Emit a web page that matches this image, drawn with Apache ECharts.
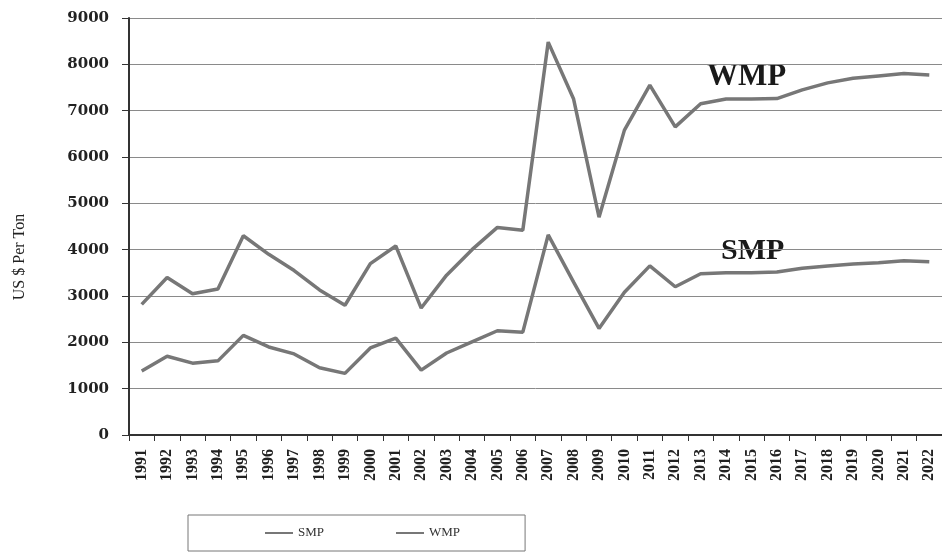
<!DOCTYPE html>
<html>
<head>
<meta charset="utf-8">
<script src="https://cdn.jsdelivr.net/npm/echarts@6/dist/echarts.min.js"></script>
<style>
  html, body { margin: 0; padding: 0; background: #fff; }
  #chart { width: 942px; height: 553px; }
</style>
</head>
<body>
<div id="chart"></div>
<script>
const years = ['1991', '1992', '1993', '1994', '1995', '1996', '1997', '1998', '1999', '2000',
  '2001', '2002', '2003', '2004', '2005', '2006', '2007', '2008', '2009', '2010',
  '2011', '2012', '2013', '2014', '2015', '2016', '2017', '2018', '2019', '2020',
  '2021', '2022']

const smp = [1380, 1700, 1550, 1600, 2150, 1900, 1750, 1450, 1330, 1880,
  2090, 1400, 1770, 2010, 2250, 2220, 4320, 3300, 2300, 3080,
  3650, 3200, 3480, 3500, 3500, 3520, 3600, 3650, 3690, 3720,
  3760, 3740]

const wmp = [2820, 3400, 3050, 3150, 4300, 3900, 3550, 3130, 2800, 3700,
  4080, 2740, 3450, 4000, 4480, 4420, 8480, 7250, 4700, 6580,
  7550, 6650, 7150, 7250, 7250, 7260, 7450, 7600, 7700, 7750,
  7800, 7770]

const yTicks = { min: 0, max: 9000, interval: 1000 }

const serif = '"Liberation Serif", "DejaVu Serif", serif'
const wideSerif = '"DejaVu Serif", "Liberation Serif", serif'
const lineColor = '#777'

const chart = echarts.init(document.getElementById('chart'))

const option = {
  animation: false,
  backgroundColor: '#fff',
  grid: {
    left: 129,
    right: -6,
    top: 18,
    bottom: 118
  },
  legend: {
    data: ['SMP', 'WMP'],
    icon: 'rect',
    left: 188,
    top: 515,
    padding: [11, 65, 11, 77],
    itemGap: 72,
    itemWidth: 28,
    itemHeight: 2,
    borderColor: '#777',
    borderWidth: 1,
    textStyle: { fontFamily: serif, fontSize: 13, color: '#333', lineHeight: 14 }
  },
  xAxis: {
    type: 'category',
    data: years,
    boundaryGap: true,
    axisLine: { lineStyle: { color: '#333', width: 2 } },
    axisTick: { show: true, length: 6, lineStyle: { color: '#333' } },
    axisLabel: {
      rotate: 90,
      interval: 0,
      margin: 14,
      fontFamily: serif,
      fontWeight: 'bold',
      fontSize: 16,
      color: '#222'
    }
  },
  yAxis: {
    type: 'value',
    min: yTicks.min,
    max: yTicks.max,
    interval: yTicks.interval,
    axisLine: { show: true, lineStyle: { color: '#333', width: 2 } },
    axisTick: { show: true, length: 7, lineStyle: { color: '#333' } },
    axisLabel: {
      margin: 20,
      fontFamily: wideSerif,
      fontWeight: 'bold',
      fontSize: 15,
      color: '#222',
      formatter: v => String(v)
    },
    splitLine: { lineStyle: { color: '#8a8a8a', width: 1 } }
  },
  series: [
    {
      name: 'SMP',
      type: 'line',
      data: smp,
      symbol: 'none',
      lineStyle: { color: lineColor, width: 3.5 },
      itemStyle: { color: lineColor }
    },
    {
      name: 'WMP',
      type: 'line',
      data: wmp,
      symbol: 'none',
      lineStyle: { color: lineColor, width: 3.5 },
      itemStyle: { color: lineColor }
    }
  ],
  graphic: [
    {
      type: 'text',
      x: 20,
      y: 257,
      rotation: Math.PI / 2,
      style: {
        text: 'US $ Per Ton',
        fontFamily: serif,
        fontSize: 16,
        fill: '#222',
        align: 'center',
        verticalAlign: 'middle'
      }
    },
    {
      type: 'text',
      left: 707,
      top: 61,
      style: { text: 'WMP', fontFamily: serif, fontWeight: 'bold', fontSize: 31, fill: '#1a1a1a' }
    },
    {
      type: 'text',
      left: 721,
      top: 236,
      style: { text: 'SMP', fontFamily: serif, fontWeight: 'bold', fontSize: 30, fill: '#1a1a1a' }
    }
  ]
}

chart.setOption(option)
</script>
</body>
</html>
